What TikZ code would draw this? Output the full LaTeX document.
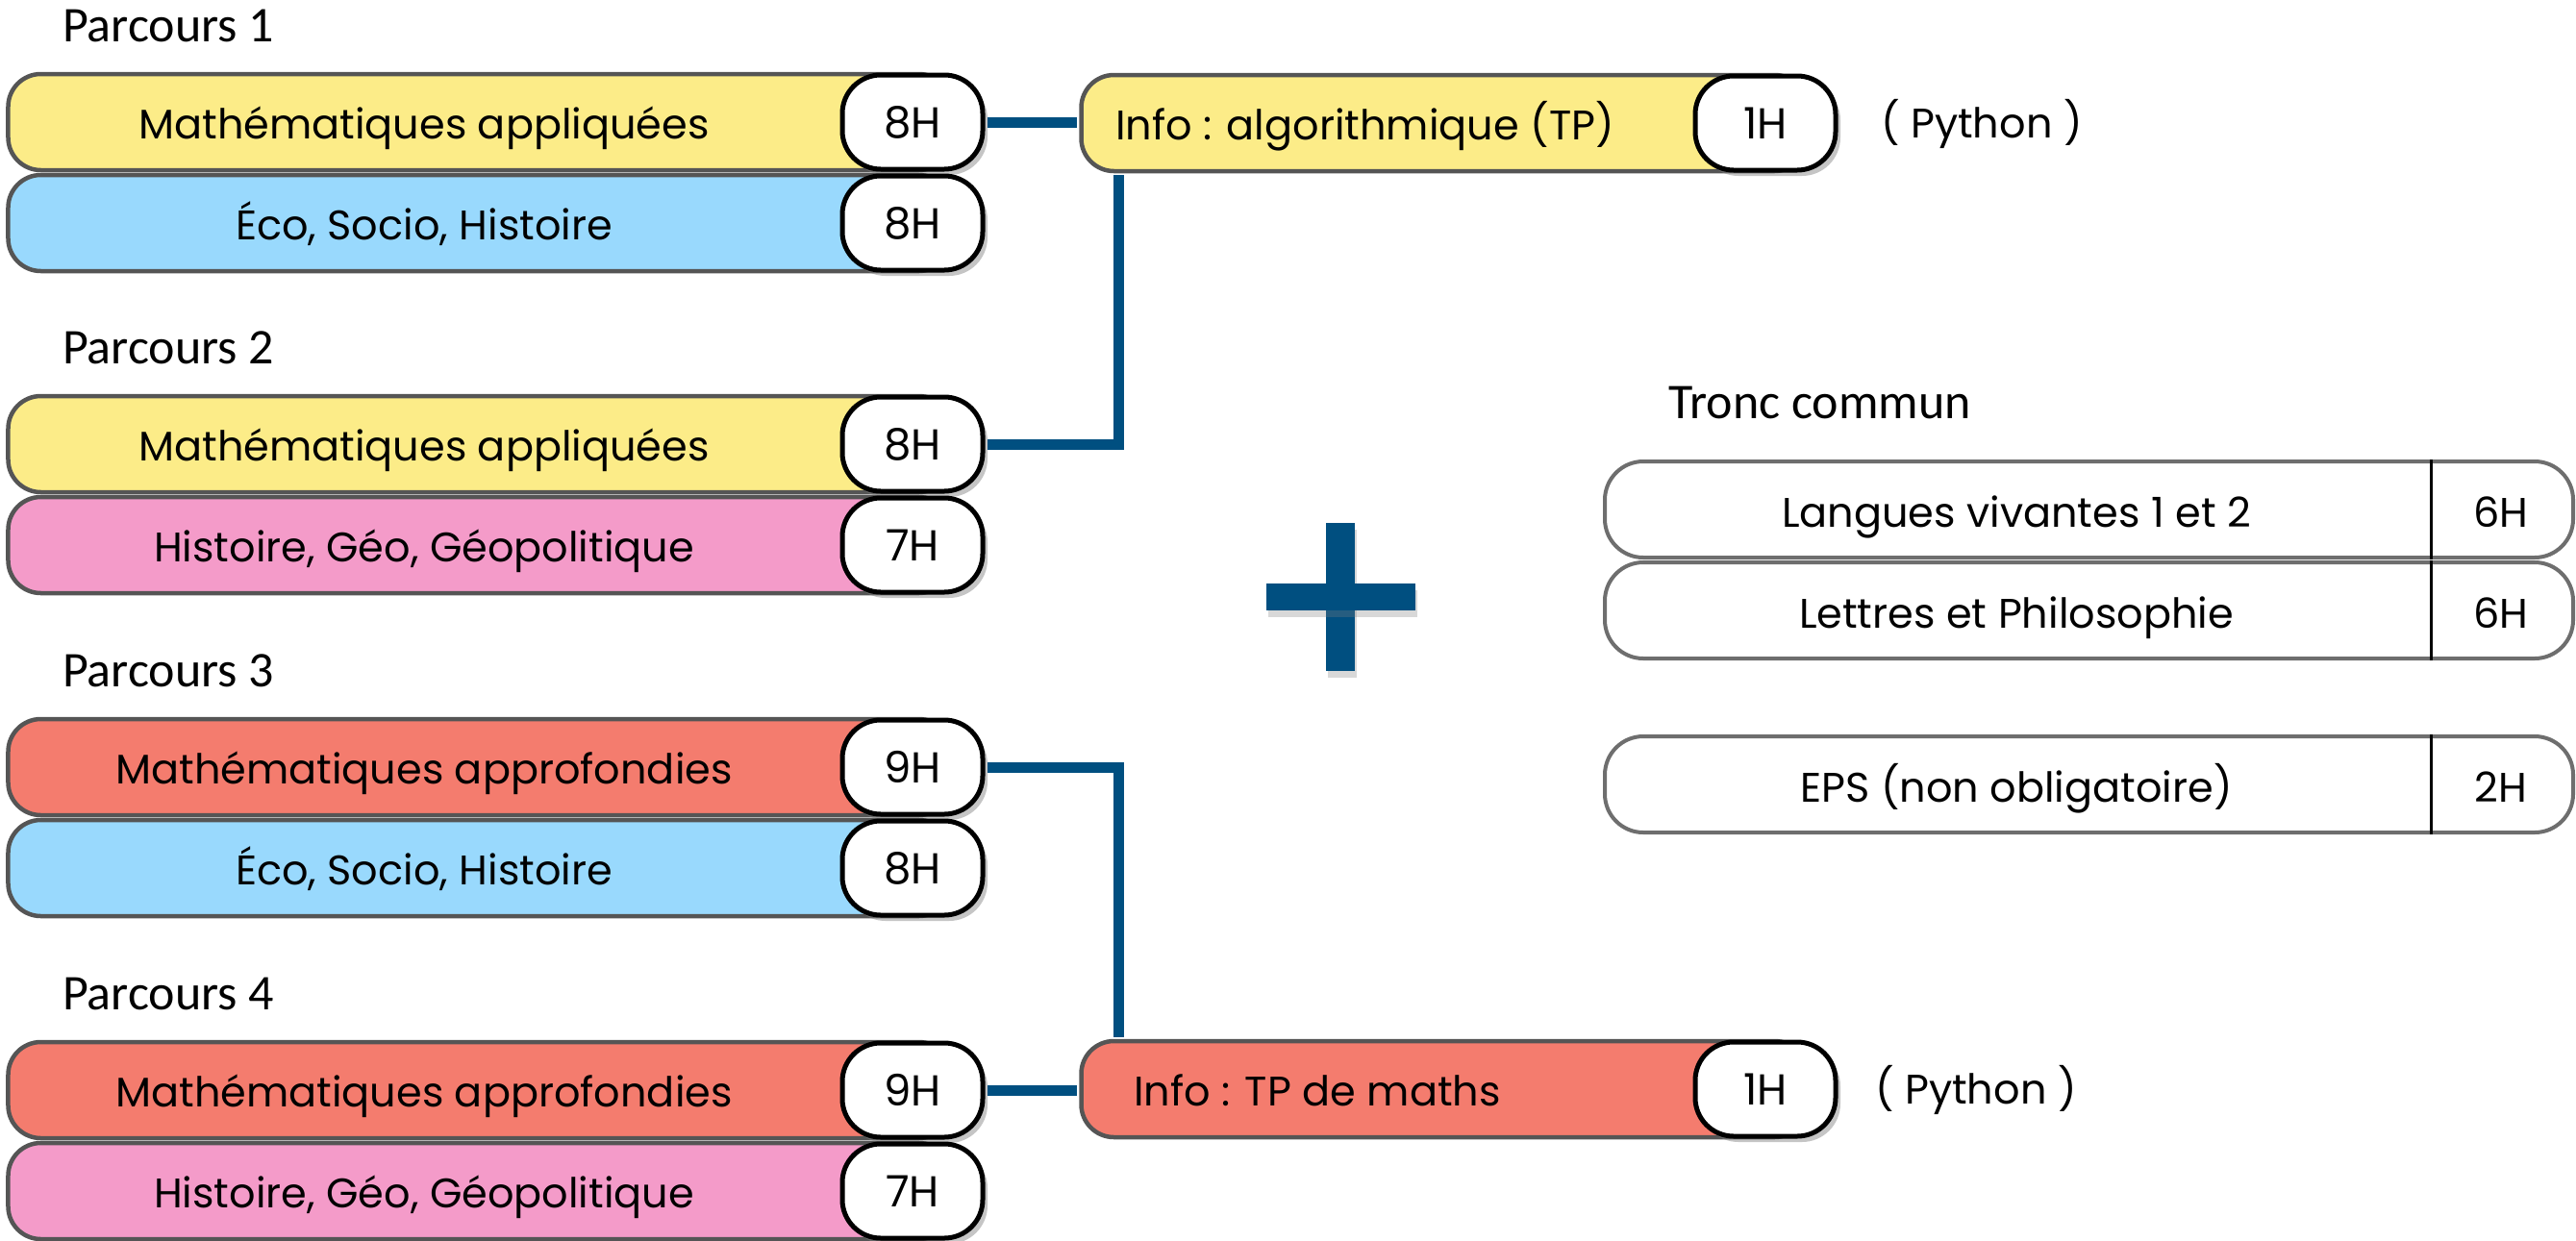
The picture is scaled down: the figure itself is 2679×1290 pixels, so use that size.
\documentclass[tikz,border=0pt]{standalone}
\usepackage{fontspec}
\setmainfont{Poppins}
\newfontfamily\califont{Carlito}
\usetikzlibrary{shadows,calc}
\definecolor{cyel}{RGB}{252,236,136}
\definecolor{cblu}{RGB}{153,217,253}
\definecolor{cpnk}{RGB}{244,155,201}
\definecolor{cred}{RGB}{244,124,110}
\definecolor{cconn}{RGB}{0,79,128}
\definecolor{cbord}{RGB}{85,85,85}
\definecolor{ctbord}{RGB}{110,110,110}
\tikzset{
  barshape/.style={draw=cbord, line width=4.5bp, rounded corners=34bp, minimum width=981bp,
    minimum height=100bp, inner sep=0pt},
  badge/.style={draw=black, fill=white, line width=5bp, rounded corners=40bp, minimum width=146bp,
    minimum height=98bp, inner sep=0pt, font=\fontsize{45bp}{45bp}\selectfont,
    drop shadow={shadow xshift=5bp, shadow yshift=-6bp, opacity=0.45}},
  btext/.style={anchor=base, inner sep=0pt, font=\fontsize{43bp}{43bp}\selectfont},
  ltext/.style={anchor=base west, inner sep=0pt, font=\fontsize{43bp}{43bp}\selectfont},
  ptitle/.style={anchor=base west, inner sep=0pt, font=\califont\fontsize{52bp}{52bp}\selectfont},
  tbox/.style={draw=ctbord, fill=white, line width=4bp, rounded corners=40bp, minimum width=1007bp,
    minimum height=100bp, inner sep=0pt},
  divider/.style={draw=black, line width=3bp},
  conn/.style={draw=cconn, line width=11bp},
  plusbar/.style={fill=cconn, drop shadow={shadow xshift=2bp, shadow yshift=-7bp, opacity=0.3}}
}
\newcommand\courserow[5]{%
  \node[barshape, fill=#3] (#1) at (499,#2) {};
  \node[btext] (#1t) at (441,#2+17) {#4};
  \node[badge] (#1h) at (949,#2) {#5};
}
\newcommand\troncrow[4]{%
  \node[tbox] (#1) at (2172.5,#2) {};
  \node[btext] (#1t) at (2097,#2+18) {#3};
  \node[btext] (#1h) at (2601,#2+18) {#4};
  \draw[divider] ($(#1.north east)+(-150,0)$) -- ($(#1.south east)+(-150,0)$);
}
\begin{document}
\begin{tikzpicture}[x=1bp,y=-1bp]
\fill[white] (0,0) rectangle (2679,1290);
\useasboundingbox (0,0) rectangle (2679,1290);

% Parcours 1
\node[ptitle] (t1) at (65,43) {Parcours 1};
\courserow{pa}{127}{cyel}{Mathématiques appliquées}{8H}
\courserow{pb}{232}{cblu}{Éco, Socio, Histoire}{8H}
% Parcours 2
\node[ptitle] (t2) at (65,378) {Parcours 2};
\courserow{pc}{462}{cyel}{Mathématiques appliquées}{8H}
\courserow{pd}{567}{cpnk}{Histoire, Géo, Géopolitique}{7H}
% Parcours 3
\node[ptitle] (t3) at (65,714) {Parcours 3};
\courserow{pe}{798}{cred}{Mathématiques approfondies}{9H}
\courserow{pf}{903}{cblu}{Éco, Socio, Histoire}{8H}
% Parcours 4
\node[ptitle] (t4) at (65,1050) {Parcours 4};
\courserow{pg}{1134}{cred}{Mathématiques approfondies}{9H}
\courserow{ph}{1239}{cpnk}{Histoire, Géo, Géopolitique}{7H}

% Info bars
\node[barshape, fill=cyel, minimum width=755bp] (info1) at (1502,128) {};
\node[ltext] (info1t) at (1160,145) {Info : algorithmique (TP)};
\node[badge] (info1h) at (1836,128) {1H};
\node[ltext] (py1) at (1956,143) {( Python )};

\node[barshape, fill=cred, minimum width=755bp] (info2) at (1502,1133) {};
\node[ltext] (info2t) at (1179,1150) {Info : TP de maths};
\node[badge] (info2h) at (1836,1133) {1H};
\node[ltext] (py2) at (1950,1148) {( Python )};

% connectors
\coordinate (j1) at ($(info1.south west)+(41,0)$);
\coordinate (j2) at ($(info2.north west)+(41,0)$);
\draw[conn, shorten <=2.5bp, shorten >=2bp] (pah.east) -- (pah.east -| info1.west);
\draw[conn, shorten <=2.5bp, shorten >=2bp] (pch.east) -| (j1);
\draw[conn, shorten <=2.5bp, shorten >=2bp] (peh.east) -| (j2);
\draw[conn, shorten <=2.5bp, shorten >=2bp] (pgh.east) -- (pgh.east -| info2.west);

% plus sign
\path[plusbar] (1379,544) rectangle (1409,698);
\path[plusbar] (1317,607) rectangle (1472,635);

% Tronc commun
\node[ptitle] (tc) at (1735,435) {Tronc commun};
\troncrow{lv}{530}{Langues vivantes 1 et 2}{6H}
\troncrow{lp}{635}{Lettres et Philosophie}{6H}
\troncrow{ep}{816}{EPS (non obligatoire)}{2H}
\end{tikzpicture}
\end{document}
